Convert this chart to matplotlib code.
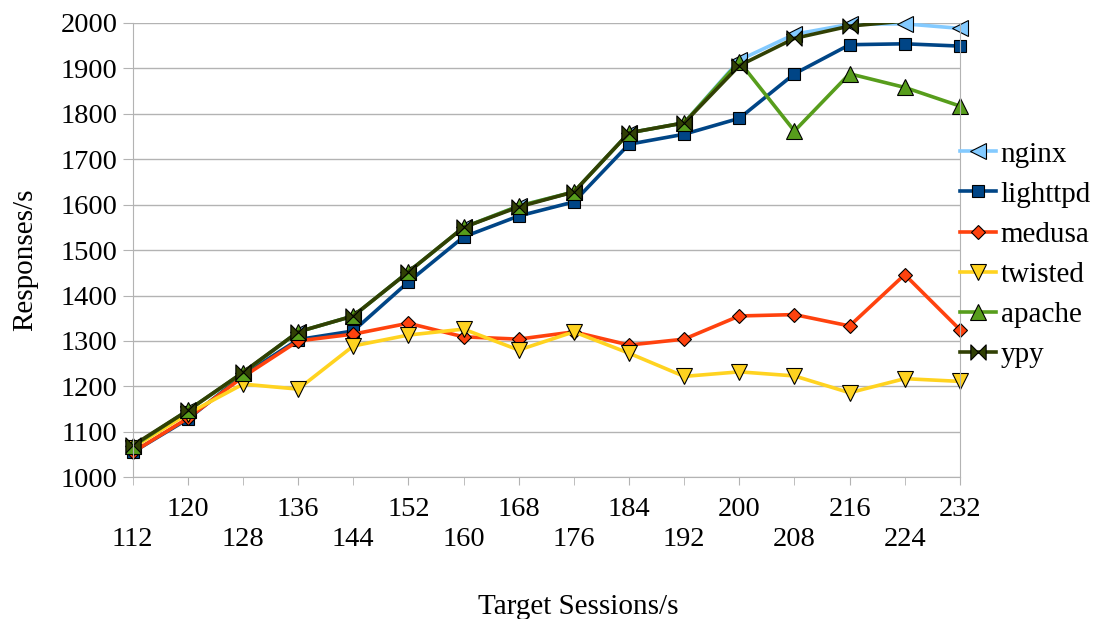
import numpy as np
import matplotlib.pyplot as plt
from matplotlib.path import Path

plt.rcParams['font.family'] = ['Liberation Serif', 'DejaVu Serif']

# Target sessions per second (x categories)
sessions = [112, 120, 128, 136, 144, 152, 160, 168, 176, 184, 192, 200, 208, 216, 224, 232]

# Responses/s per server
nginx    = [1068, 1147, 1230, 1320, 1355, 1452, 1550, 1597, 1628, 1758, 1780, 1918, 1975, 1997, 1998, 1988]
lighttpd = [1055, 1128, 1225, 1303, 1322, 1430, 1529, 1575, 1606, 1733, 1755, 1790, 1888, 1952, 1954, 1949]
medusa   = [1055, 1130, 1221, 1300, 1315, 1339, 1309, 1304, 1320, 1291, 1304, 1355, 1358, 1333, 1446, 1325]
twisted  = [1065, 1140, 1205, 1194, 1289, 1313, 1326, 1280, 1320, 1273, 1222, 1232, 1223, 1186, 1217, 1211]
apache   = [1068, 1147, 1230, 1320, 1355, 1452, 1550, 1597, 1628, 1758, 1780, 1915, 1762, 1888, 1858, 1817]
ypy      = [1070, 1147, 1231, 1320, 1355, 1452, 1550, 1595, 1628, 1758, 1780, 1906, 1966, 1993, 2004, 2010]

# bowtie marker for ypy
bowtie = Path([(-1, -1), (0, 0), (-1, 1), (-1, -1),
               (1, -1), (0, 0), (1, 1), (1, -1)],
              [Path.MOVETO, Path.LINETO, Path.LINETO, Path.CLOSEPOLY,
               Path.MOVETO, Path.LINETO, Path.LINETO, Path.CLOSEPOLY])

series = [
    ('nginx', nginx, '#83caff', '<', 11),
    ('lighttpd', lighttpd, '#004586', 's', 9),
    ('medusa', medusa, '#ff420e', 'D', 7.5),
    ('twisted', twisted, '#ffd320', 'v', 11),
    ('apache', apache, '#579d1c', '^', 11),
    ('ypy', ypy, '#314004', bowtie, 11),
]

ymin, ymax = 1000, 2000
fs = 20.5

fig = plt.figure(figsize=(10.97, 6.19), dpi=100)
ax = fig.add_axes([0.121, 0.229, 0.754, 0.734])

x = np.arange(len(sessions))
for name, vals, col, mk, ms in series:
    v = np.array(vals, dtype=float)
    ax.plot(x, v, color=col, lw=2.6)
    vm = np.where(v <= ymax, v, np.nan)
    ax.plot(x, vm, ls='none', marker=mk, markersize=ms, markerfacecolor=col,
            markeredgecolor='black', markeredgewidth=0.8, clip_on=False)
    # legend proxy
    ax.plot([], [], color=col, lw=2.6, marker=mk, markersize=ms,
            markerfacecolor=col, markeredgecolor='black', markeredgewidth=0.8,
            label=name)

ax.set_xlim(0, len(sessions) - 1)
ax.set_ylim(ymin, ymax)
ax.set_yticks(np.arange(ymin, ymax + 1, 100))
ax.yaxis.grid(True, color='#b3b3b3', lw=1)
ax.set_axisbelow(True)

# staggered x labels: odd categories on upper row, even on lower row
ax.set_xticks(x[1::2])
ax.set_xticklabels([str(s) for s in sessions[1::2]])
ax.set_xticks(x[0::2], minor=True)
ax.set_xticklabels([str(s) for s in sessions[0::2]], minor=True)
ax.tick_params(axis='x', which='major', length=6, color='#b3b3b3', labelsize=fs, pad=8)
ax.tick_params(axis='x', which='minor', length=6, color='#b3b3b3', labelsize=fs, pad=30)
ax.tick_params(axis='y', length=7, color='#b3b3b3', labelsize=fs, pad=4)
for s in ax.spines.values():
    s.set_color('#b3b3b3')
ax.spines['top'].set_visible(False)

ax.set_ylabel('Responses/s', fontsize=21)
ax.yaxis.set_label_coords(-0.114, 0.478)
ax.set_xlabel('Target Sessions/s', fontsize=21, labelpad=30)
ax.xaxis.label.set_x(0.539)

ax.legend(loc='center left', bbox_to_anchor=(1.0, 0.49), frameon=False,
          fontsize=21, handlelength=1.25, handletextpad=0.15, labelspacing=0.47,
          borderaxespad=0, borderpad=0)

fig.savefig('out.png', dpi=100)
